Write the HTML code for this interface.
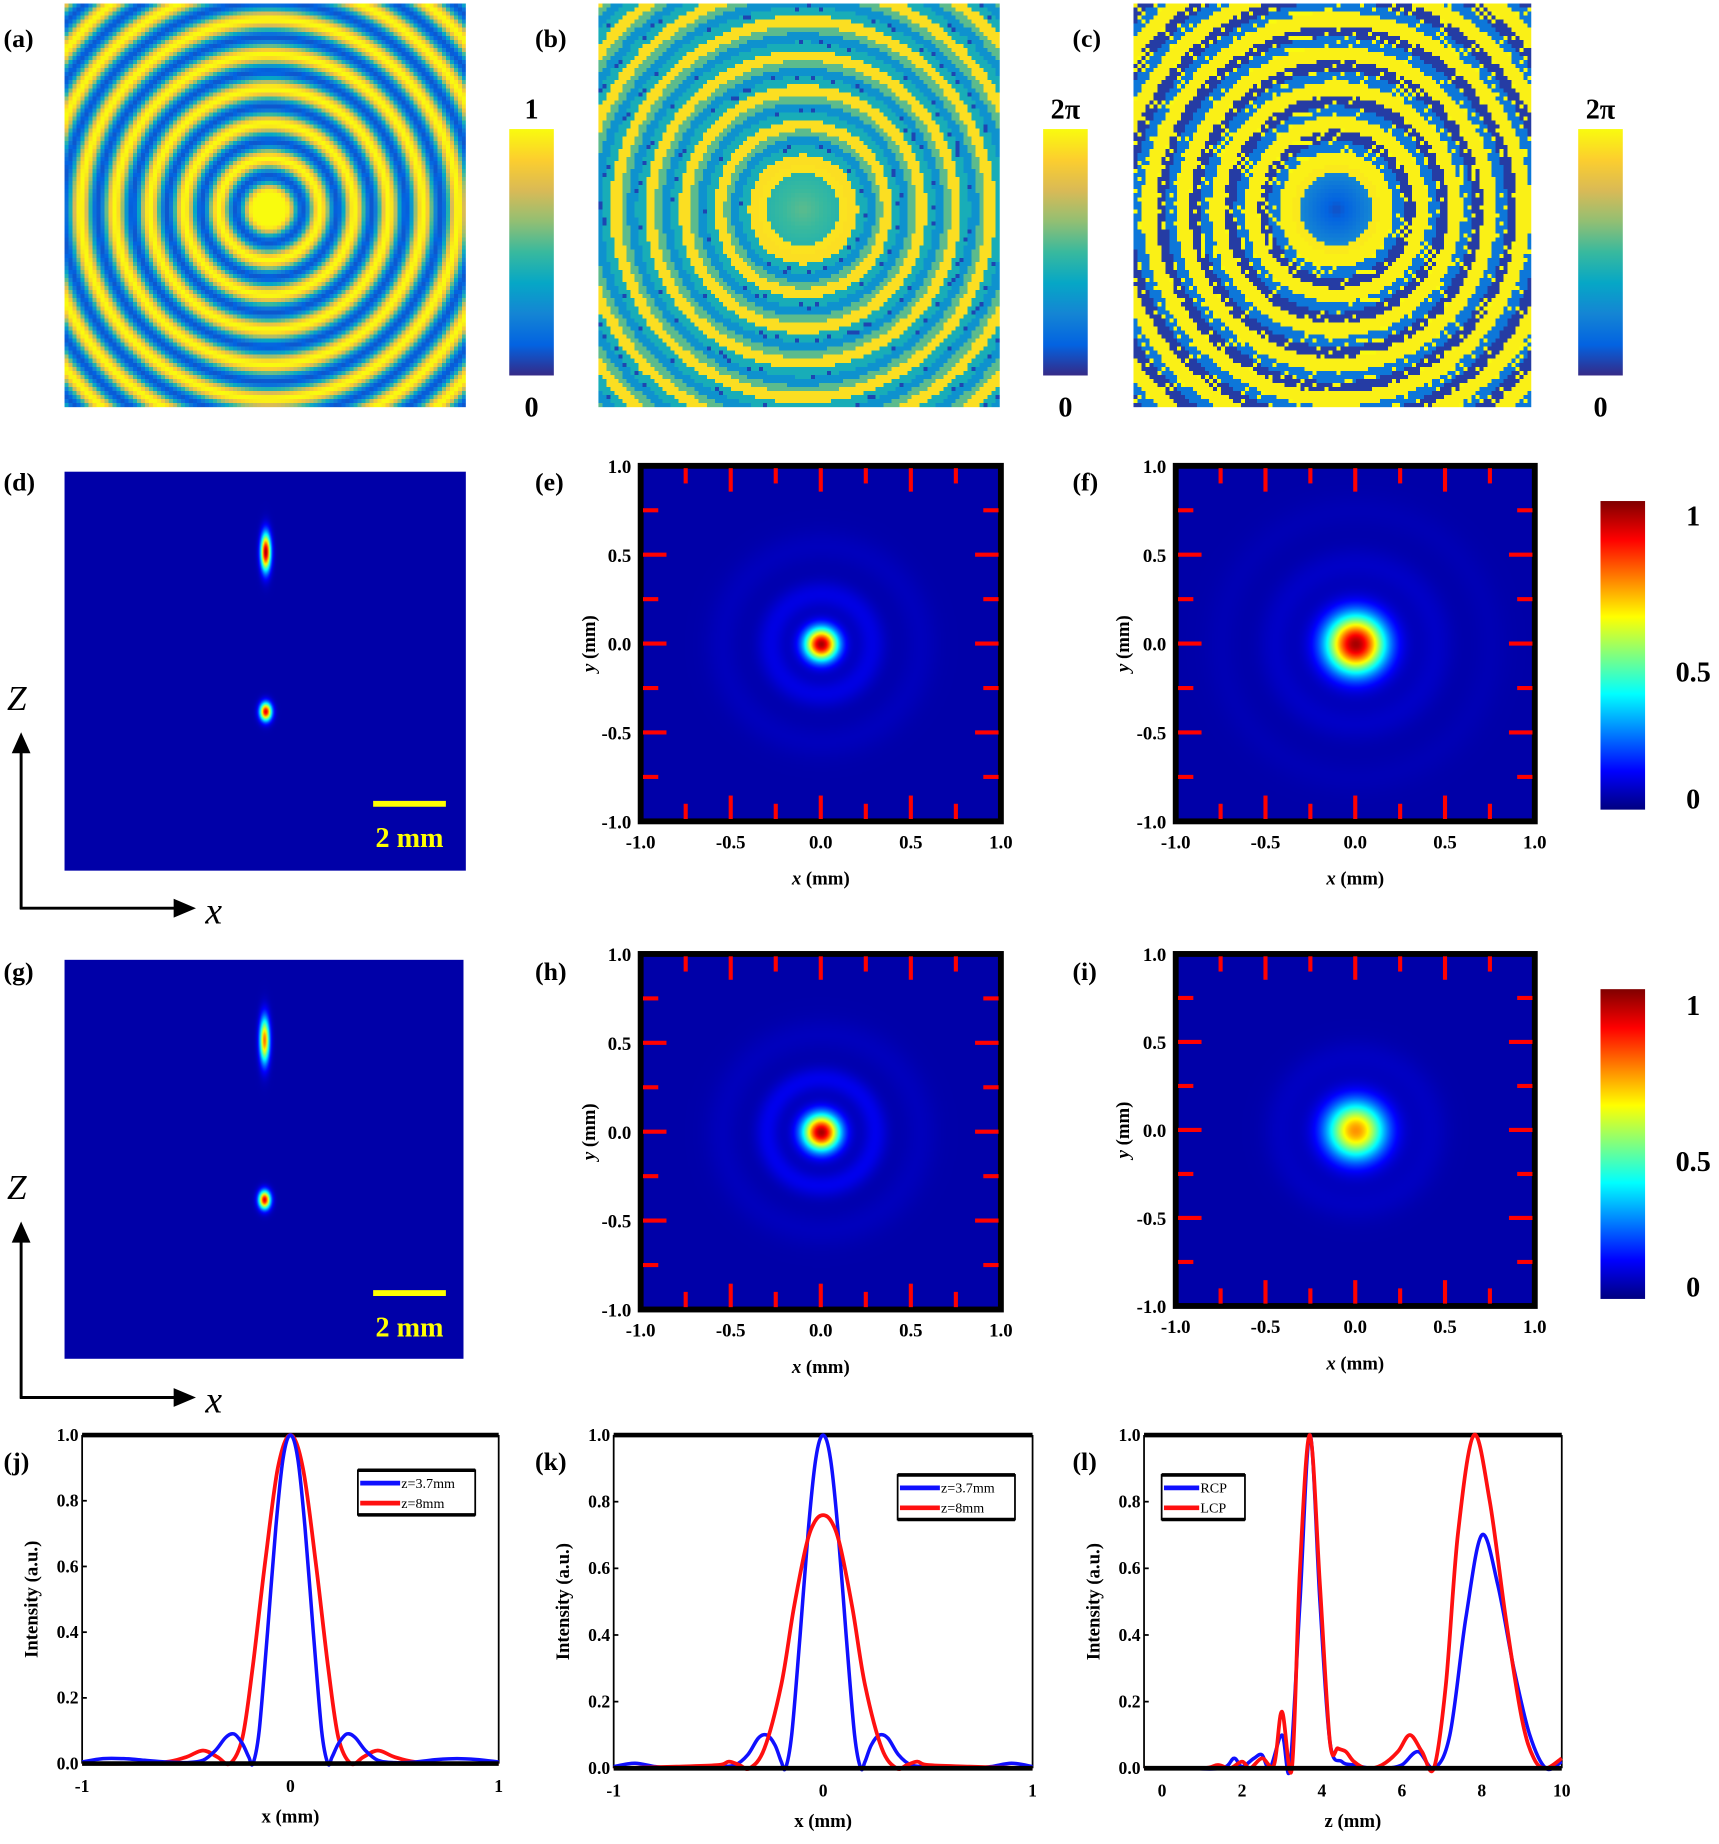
<!DOCTYPE html>
<html><head><meta charset="utf-8">
<style>
html,body{margin:0;padding:0;background:#fff;overflow:hidden;}
#root{position:absolute;left:0;top:0;width:1465px;height:1571px;transform:scale(1.17338);transform-origin:0 0;}
canvas{position:absolute;image-rendering:pixelated;}
svg{position:absolute;left:0;top:0;}
.t{font-family:"Liberation Serif",serif;font-weight:bold;}
</style></head><body>
<div id="root">
<canvas id="ca" style="left:55px;top:3px;width:342px;height:344px" width="100" height="100"></canvas>
<canvas id="cb" style="left:510px;top:3px;width:342px;height:344px" width="100" height="100"></canvas>
<canvas id="cc" style="left:966px;top:3px;width:339px;height:344px" width="100" height="100"></canvas>
<canvas id="cd" style="left:55px;top:402px;width:342px;height:340px;image-rendering:auto" width="342" height="340"></canvas>
<canvas id="cg" style="left:55px;top:818px;width:340px;height:340px;image-rendering:auto" width="340" height="340"></canvas>
<canvas id="ce" style="left:546px;top:397px;width:307px;height:303px;image-rendering:auto" width="307" height="303"></canvas>
<canvas id="cf" style="left:1002px;top:397px;width:306px;height:303px;image-rendering:auto" width="306" height="303"></canvas>
<canvas id="ch" style="left:546px;top:813px;width:307px;height:303px;image-rendering:auto" width="307" height="303"></canvas>
<canvas id="ci" style="left:1002px;top:813px;width:306px;height:300px;image-rendering:auto" width="306" height="300"></canvas>
<svg id="sv" width="1465" height="1571" viewBox="0 0 1465 1571">
<defs>
<linearGradient id="par" x1="0" y1="1" x2="0" y2="0">
<stop offset="0" stop-color="#352a87"/><stop offset="0.125" stop-color="#0363e1"/><stop offset="0.25" stop-color="#1485d4"/><stop offset="0.375" stop-color="#06a7c6"/><stop offset="0.5" stop-color="#38b99e"/><stop offset="0.625" stop-color="#92bf73"/><stop offset="0.75" stop-color="#d9ba56"/><stop offset="0.875" stop-color="#fcce2e"/><stop offset="1" stop-color="#f9fb0e"/>
</linearGradient>
<linearGradient id="jet" x1="0" y1="1" x2="0" y2="0">
<stop offset="0" stop-color="#000080"/><stop offset="0.125" stop-color="#0000ff"/><stop offset="0.375" stop-color="#00ffff"/><stop offset="0.625" stop-color="#ffff00"/><stop offset="0.875" stop-color="#ff0000"/><stop offset="1" stop-color="#800000"/>
</linearGradient>
</defs>
<g class="t" font-size="22">
<text x="3" y="40">(a)</text>
<text x="456" y="40">(b)</text>
<text x="914" y="40">(c)</text>
<text x="3" y="418">(d)</text>
<text x="456" y="418">(e)</text>
<text x="914" y="418">(f)</text>
<text x="3" y="835">(g)</text>
<text x="456" y="835">(h)</text>
<text x="914" y="835">(i)</text>
<text x="3" y="1253">(j)</text>
<text x="456" y="1253">(k)</text>
<text x="914" y="1253">(l)</text>
</g>
<rect x="434" y="110" width="38" height="210" fill="url(#par)"/>
<rect x="889" y="110" width="38" height="210" fill="url(#par)"/>
<rect x="1345" y="110" width="38" height="210" fill="url(#par)"/>
<g class="t" font-size="24" text-anchor="middle">
<text x="453" y="101">1</text>
<text x="453" y="355">0</text>
<text x="908" y="101">2π</text>
<text x="908" y="355">0</text>
<text x="1364" y="101">2π</text>
<text x="1364" y="355">0</text>
</g>
<rect x="1364" y="427" width="38" height="263" fill="url(#jet)"/>
<rect x="1364" y="843" width="38" height="264" fill="url(#jet)"/>
<g class="t" font-size="24" text-anchor="middle">
<text x="1443" y="448">1</text>
<text x="1443" y="581">0.5</text>
<text x="1443" y="689">0</text>
<text x="1443" y="865">1</text>
<text x="1443" y="998">0.5</text>
<text x="1443" y="1105">0</text>
</g>
<g id="scalebars"></g>
<g id="frames"></g>
<g id="lineplots"></g>
</svg>
</div>
<script>
// ---- line plot data ----
const jBlueX=[-1,-0.9,-0.8,-0.7,-0.6,-0.5,-0.42,-0.36,-0.31,-0.27,-0.23,-0.2,-0.18,-0.15,-0.11,-0.07,-0.035,0,0.035,0.07,0.11,0.15,0.18,0.2,0.23,0.27,0.31,0.36,0.42,0.5,0.6,0.7,0.8,0.9,1];
const jBlueY=[0.005,0.015,0.015,0.01,0.005,0.003,0.01,0.04,0.08,0.09,0.06,0.02,0.0,0.1,0.4,0.72,0.93,1,0.93,0.72,0.4,0.1,0.0,0.02,0.06,0.09,0.08,0.04,0.01,0.003,0.005,0.012,0.015,0.012,0.005];
const jRedX=[-1,-0.8,-0.6,-0.5,-0.42,-0.35,-0.29,-0.23,-0.18,-0.12,-0.06,0,0.06,0.12,0.18,0.23,0.29,0.35,0.42,0.5,0.6,0.8,1];
const jRedY=[0,0,0.005,0.02,0.04,0.02,0.0,0.08,0.3,0.62,0.9,1,0.9,0.62,0.3,0.08,0.0,0.02,0.04,0.02,0.005,0,0];
const kBlueX=[-1,-0.9,-0.8,-0.7,-0.5,-0.42,-0.36,-0.31,-0.27,-0.23,-0.2,-0.18,-0.15,-0.11,-0.07,-0.035,0,0.035,0.07,0.11,0.15,0.18,0.2,0.23,0.27,0.31,0.36,0.42,0.5,0.7,0.8,0.9,1];
const kBlueY=[0.005,0.015,0.005,0.0,0.005,0.01,0.04,0.09,0.1,0.07,0.02,0.0,0.1,0.4,0.72,0.93,1,0.93,0.72,0.4,0.1,0.0,0.02,0.07,0.1,0.09,0.04,0.01,0.005,0.0,0.005,0.015,0.005];
const kRedX=[-1,-0.7,-0.5,-0.45,-0.4,-0.35,-0.28,-0.2,-0.14,-0.08,-0.04,0,0.04,0.08,0.14,0.2,0.28,0.35,0.4,0.45,0.5,0.7,1];
const kRedY=[0,0.005,0.01,0.02,0.01,0.0,0.06,0.25,0.48,0.67,0.74,0.76,0.74,0.67,0.48,0.25,0.06,0.0,0.01,0.02,0.01,0.005,0];
const lBlueX=[-0.45,0.5,1.5,1.8,2.0,2.3,2.5,2.7,3.0,3.2,3.45,3.7,3.95,4.2,4.5,4.8,5.2,5.6,6.0,6.4,6.8,7.2,7.6,8.0,8.4,8.8,9.2,9.6,10];
const lBlueY=[0,0,0,0.03,0.005,0.03,0.04,0.0,0.1,0.0,0.5,1,0.5,0.08,0.02,0.01,0.0,0.0,0.01,0.05,0.0,0.1,0.45,0.7,0.55,0.3,0.1,0.0,0.02];
const lRedX=[-0.45,1.0,1.4,1.7,2.0,2.2,2.5,2.8,3.0,3.25,3.45,3.7,3.95,4.2,4.4,4.6,4.8,5.1,5.5,5.9,6.2,6.5,6.8,7.1,7.4,7.8,8.2,8.6,9.0,9.3,9.6,10];
const lRedY=[0,0,0.01,0.0,0.02,0.0,0.03,0.01,0.17,0.0,0.6,1,0.55,0.08,0.06,0.05,0.02,0.0,0.01,0.05,0.1,0.05,0.0,0.25,0.7,1,0.8,0.45,0.15,0.03,0.0,0.03];
const yTickVals=[0,0.2,0.4,0.6,0.8,1.0];
const yTickLabels=["0.0","0.2","0.4","0.6","0.8","1.0"];
const xTicksJK=[-1,0,1];
const xTicksL=[0,2,4,6,8,10];
const mapTickVals=[-1,-0.5,0,0.5,1];
const mapTickLabels=["-1.0","-0.5","0.0","0.5","1.0"];
const mapMinor=[-0.75,-0.25,0.25,0.75];

const NS='http://www.w3.org/2000/svg';
function el(tag,attrs,parent,text){const e=document.createElementNS(NS,tag);for(const k in attrs)e.setAttribute(k,attrs[k]);if(text!==undefined)e.textContent=text;parent.appendChild(e);return e;}
function smoothPath(pts){let d='M'+pts[0][0].toFixed(1)+','+pts[0][1].toFixed(1);for(let i=0;i<pts.length-1;i++){const p0=pts[Math.max(0,i-1)],p1=pts[i],p2=pts[i+1],p3=pts[Math.min(pts.length-1,i+2)];const c1=[p1[0]+(p2[0]-p0[0])/6,p1[1]+(p2[1]-p0[1])/6],c2=[p2[0]-(p3[0]-p1[0])/6,p2[1]-(p3[1]-p1[1])/6];d+='C'+c1.map(v=>v.toFixed(1))+' '+c2.map(v=>v.toFixed(1))+' '+p2[0].toFixed(1)+','+p2[1].toFixed(1);}return d;}

const LP=document.getElementById('lineplots');
function linePlot(id,x0,x1,y0,y1,xmin,xmax,xt,xlabel,series,legend){
  const g=el('g',{},LP);
  
  
  const sx=v=>x0+(v-xmin)/(xmax-xmin)*(x1-x0), sy=v=>y1-v*(y1-y0);
  el('line',{x1:x0,y1:y0,x2:x0,y2:y1,stroke:'#000','stroke-width':1.5},g);
  el('line',{x1:x1,y1:y0,x2:x1,y2:y1,stroke:'#000','stroke-width':1.5},g);
  el('line',{x1:x0,y1:y0,x2:x1,y2:y0,stroke:'#000','stroke-width':4},g);
  for(let i=0;i<yTickVals.length;i++){const y=sy(yTickVals[i]);el('line',{x1:x0,y1:y,x2:x0+4,y2:y,stroke:'#000','stroke-width':1.5},g);
    const t=el('text',{x:x0-3,y:y+5,'text-anchor':'end','font-size':15,class:'t'},g,yTickLabels[i]);
    }
  for(const v of xt){const t=el('text',{x:sx(v),y:y1+24,'text-anchor':'middle','font-size':15,class:'t'},g,String(v));
    }
  const xl=el('text',{x:(x0+x1)/2,y:y1+50,'text-anchor':'middle','font-size':16,class:'t'},g,xlabel);
  
  const yl=el('text',{x:0,y:0,transform:`translate(${x0-38},${(y0+y1)/2}) rotate(-90)`,'text-anchor':'middle','font-size':16,class:'t'},g,'Intensity (a.u.)');
  
  for(const s of series){const pts=s.x.map((v,i)=>[sx(v),sy(s.y[i])]);
    const p=el('path',{d:smoothPath(pts),fill:'none',stroke:s.c,'stroke-width':s.w},g);
    }
  el('line',{x1:x0,y1:y1,x2:x1,y2:y1,stroke:'#000','stroke-width':4},g);
  const L=legend;const lg=el('g',{},g);
  
  el('rect',{x:L.x,y:L.y,width:L.w,height:38,fill:'#fff',stroke:'#000','stroke-width':1.5},lg);
  el('line',{x1:L.x,y1:L.y,x2:L.x+L.w,y2:L.y,stroke:'#000','stroke-width':3},lg);
  el('line',{x1:L.x,y1:L.y+38,x2:L.x+L.w,y2:L.y+38,stroke:'#000','stroke-width':3},lg);
  L.items.forEach((it,i)=>{const yy=L.y+11+i*17;el('line',{x1:L.x+2,y1:yy,x2:L.x+L.lw,y2:yy,stroke:it[1],'stroke-width':4},lg);
    const t=el('text',{x:L.x+L.lw+1,y:yy+4,'font-size':12,'font-family':'Liberation Serif, serif'},lg,it[0]);
    });
}
linePlot('j',70,425,1223,1503,-1,1,xTicksJK,'x (mm)',[{x:jRedX,y:jRedY,c:'#ff1010',w:3.2,name:'series-z8mm'},{x:jBlueX,y:jBlueY,c:'#1010ff',w:3,name:'series-z3.7mm'}],{x:305,y:1253,w:100,lw:36,items:[['z=3.7mm','#1010ff'],['z=8mm','#ff1010']]});
linePlot('k',523,880,1223,1507,-1,1,xTicksJK,'x (mm)',[{x:kBlueX,y:kBlueY,c:'#1010ff',w:3,name:'series-z3.7mm'},{x:kRedX,y:kRedY,c:'#ff1010',w:3.2,name:'series-z8mm'}],{x:765,y:1257,w:100,lw:36,items:[['z=3.7mm','#1010ff'],['z=8mm','#ff1010']]});
linePlot('l',975,1331,1223,1507,-0.45,10,xTicksL,'z (mm)',[{x:lBlueX,y:lBlueY,c:'#1010ff',w:3,name:'series-rcp'},{x:lRedX,y:lRedY,c:'#ff1010',w:3.2,name:'series-lcp'}],{x:990,y:1257,w:71,lw:32,items:[['RCP','#1010ff'],['LCP','#ff1010']]});

// ---- map frames (e,f,h,i) ----
const FR=document.getElementById('frames');
function frame(id,x0,y0,x1,y1,ylx){
  const g=el('g',{},FR);
  
  el('rect',{x:x0,y:y0,width:x1-x0,height:y1-y0,fill:'none',stroke:'#000','stroke-width':5},g);
  const sx=v=>x0+(v+1)/2*(x1-x0), sy=v=>y1-(v+1)/2*(y1-y0);
  const all=mapTickVals.map(v=>[v,20]).concat(mapMinor.map(v=>[v,13]));
  for(const [v,len] of all){
    if(v>-1&&v<1){
      el('line',{x1:sx(v),y1:y0+2,x2:sx(v),y2:y0+2+len,stroke:'#f00','stroke-width':3.5},g);
      el('line',{x1:sx(v),y1:y1-2,x2:sx(v),y2:y1-2-len,stroke:'#f00','stroke-width':3.5},g);
      el('line',{x1:x0+2,y1:sy(v),x2:x0+2+len,y2:sy(v),stroke:'#f00','stroke-width':3.5},g);
      el('line',{x1:x1-2,y1:sy(v),x2:x1-2-len,y2:sy(v),stroke:'#f00','stroke-width':3.5},g);
    }
  }
  mapTickVals.forEach((v,i)=>{
    const a=el('text',{x:sx(v),y:y1+23,'text-anchor':'middle','font-size':16,class:'t'},g,mapTickLabels[i]);
    
    const b=el('text',{x:x0-8,y:sy(v)+6,'text-anchor':'end','font-size':16,class:'t'},g,mapTickLabels[i]);
    
  });
  const xt=el('text',{x:(x0+x1)/2,y:y1+54,'text-anchor':'middle','font-size':16,class:'t'},g);
  xt.innerHTML='<tspan font-style="italic">x</tspan> (mm)';
  
  const yt=el('text',{x:0,y:0,transform:`translate(${ylx},${(y0+y1)/2}) rotate(-90)`,'text-anchor':'middle','font-size':16,class:'t'},g);
  yt.innerHTML='<tspan font-style="italic">y</tspan> (mm)';
  
}
frame('e',546,397,853,700,507);
frame('f',1002,397,1308,700,962);
frame('h',546,813,853,1116,507);
frame('i',1002,813,1308,1113,962);

// ---- scale bars and axes arrows for d,g ----
const SB=document.getElementById('scalebars');
function sbar(id,oy){
  const g=el('g',{},SB);
  
  el('line',{x1:318,y1:685+oy,x2:380,y2:685+oy,stroke:'#ffff00','stroke-width':5},g);
  const t=el('text',{x:349,y:722+oy,'text-anchor':'middle','font-size':24,fill:'#ffff00',class:'t'},g,'2 mm');
  
  el('line',{x1:18,y1:775+oy,x2:18,y2:640+oy,stroke:'#000','stroke-width':2.5},g);
  el('polygon',{points:`10,${642+oy} 26,${642+oy} 18,${624+oy}`,fill:'#000'},g);
  el('line',{x1:17,y1:774+oy,x2:150,y2:774+oy,stroke:'#000','stroke-width':2.5},g);
  el('polygon',{points:`148,${766+oy} 148,${782+oy} 167,${774+oy}`,fill:'#000'},g);
  const z=el('text',{x:6,y:605+oy,'font-size':30,'font-style':'italic','font-family':'Liberation Serif, serif'},g,'Z');
  
  const x=el('text',{x:175,y:787+oy,'font-size':32,'font-style':'italic','font-family':'Liberation Serif, serif'},g,'x');
  
}
sbar('d',0);sbar('g',417);

// ---- colormaps ----
const parStops=[[53,42,135],[3,99,225],[20,132,212],[6,167,198],[56,185,158],[146,191,115],[217,186,86],[252,206,46],[249,251,14]];
function parula(v){v=Math.max(0,Math.min(1,v));const f=v*8,i=Math.min(7,Math.floor(f)),t=f-i,a=parStops[i],b=parStops[i+1];return [a[0]+(b[0]-a[0])*t,a[1]+(b[1]-a[1])*t,a[2]+(b[2]-a[2])*t];}
function jet(v){const c=x=>Math.max(0,Math.min(1,x))*255;return [c(1.5-Math.abs(4*v-3)),c(1.5-Math.abs(4*v-2)),c(1.5-Math.abs(4*v-1))];}
function paint(id,fn,cm){const c=document.getElementById(id),ctx=c.getContext('2d'),W=c.width,H=c.height,im=ctx.createImageData(W,H);
  for(let y=0;y<H;y++)for(let x=0;x<W;x++){const v=fn(x/W,y/H),col=cm(v),k=(y*W+x)*4;im.data[k]=col[0];im.data[k+1]=col[1];im.data[k+2]=col[2];im.data[k+3]=255;}ctx.putImageData(im,0,0);}
const mod=(a,b)=>((a%b)+b)%b;
// a: amplitude rings, yellow centre
paint('ca',(u,v)=>{const r=Math.hypot(u-0.505,v-0.505)*100;const p=Math.max(0,r-4);return 0.5+0.45*Math.cos(2*Math.PI*p/8.6)+0.05;},parula);
// b: phase, green centre, mixed yellow/teal/blue rings
paint('cb',(u,v)=>{const r=Math.hypot(u-0.505,v-0.505)*100;if(r<9)return 0.55-r*0.01;if(r<11)return 0.93;
  const p=mod((r-11)/8.6,1);let val=p<0.3?0.92:(p<0.55?0.42:(p<0.8?0.3:0.55));
  const q=mod(Math.atan2(v-0.5,u-0.5)*30+r*2.1,4)<0.5;if(q&&p>0.45&&p<0.6)val=0.06;return val;},parula);
// c: phase, dark centre, yellow/blue rings
paint('cc',(u,v)=>{const r=Math.hypot(u-0.505,v-0.505)*100;if(r<9)return 0.08+r*0.02;if(r<11)return 0.95;
  const p=mod((r-11)/8.6,1);let val=p<0.4?0.97:(p<0.7?0.2:0.04);
  const q=mod(Math.atan2(v-0.5,u-0.5)*30+r*3.3,5)<0.7;if(q&&p>=0.4)val=1;return val;},parula);
const BG=0.04;
function spot(A,w,rings){return (u,v)=>{const dx=(u-0.5)*2,dy=(v-0.5)*2,r=Math.hypot(dx,dy);let val=A*Math.exp(-(r*r)/(w*w));
  for(const rg of rings)val+=rg[1]*Math.exp(-Math.pow((r-rg[0])/rg[2],2));return BG+val*(1-BG);};}
paint('ce',spot(0.96,0.09,[[0.28,0.06,0.08],[0.55,0.02,0.1]]),jet);
paint('cf',spot(0.96,0.16,[[0.45,0.03,0.1],[0.75,0.012,0.1]]),jet);
paint('ch',spot(0.96,0.1,[[0.3,0.07,0.07],[0.55,0.02,0.1]]),jet);
paint('ci',spot(0.72,0.16,[[0.42,0.025,0.1]]),jet);
function xz(A1,cy1,h1,A2,cy2,h2){return (u,v)=>{const dx=(u-0.5)/0.012;const a=A1*Math.exp(-dx*dx-Math.pow((v-cy1)/h1,2));const b=A2*Math.exp(-dx*dx*0.7-Math.pow((v-cy2)/h2,2));return BG+(a+b)*(1-BG);};}
paint('cd',xz(0.96,0.2,0.045,0.9,0.6,0.022),jet);
paint('cg',xz(0.75,0.2,0.055,0.9,0.6,0.022),jet);
</script>
</body></html>
